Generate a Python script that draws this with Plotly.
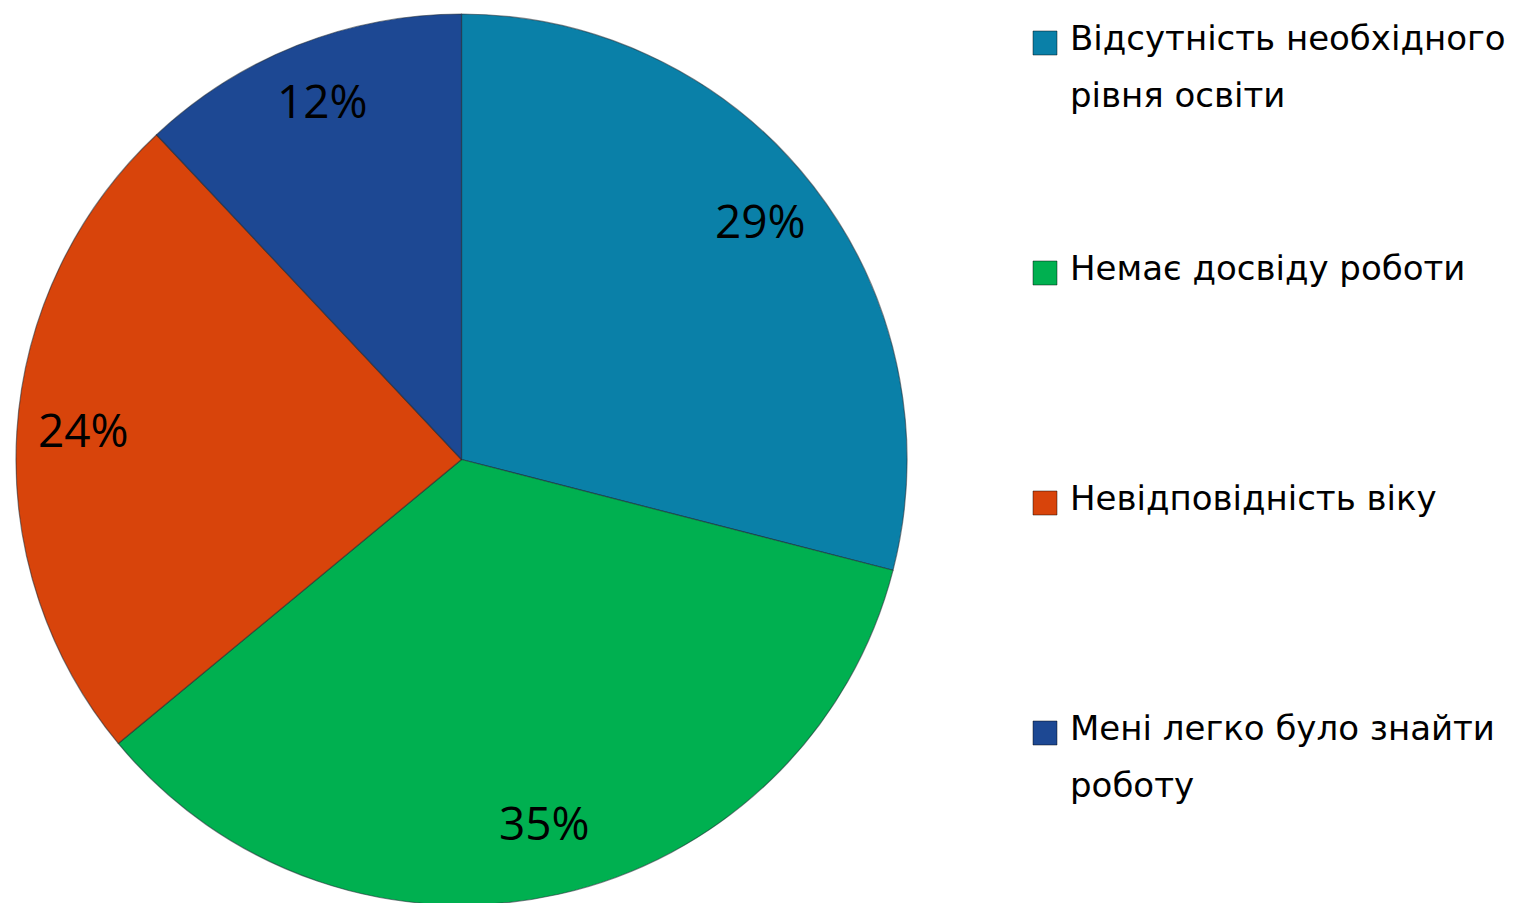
import math
import plotly.graph_objects as go

# ---- data ----
categories = [
    "Відсутність необхідного\nрівня освіти",
    "Немає досвіду роботи",
    "Невідповідність віку",
    "Мені легко було знайти\nроботу",
]
values = [29, 35, 24, 12]
value_labels = ["29%", "35%", "24%", "12%"]
colors = ["#0A80A8", "#00B050", "#D8440B", "#1D4893"]

W, H = 1526, 903
OFF = 8  # page body margin in the browser
FONT_NUM = "Open Sans, DejaVu Sans, sans-serif"
FONT_LEG = "DejaVu Sans, sans-serif"

# pie geometry (screen px -> figure px)
left_px, right_px, top_px = 16 - OFF, 907 - OFF, 14 - OFF
diam = right_px - left_px
dom_x = [left_px / W, right_px / W]
dom_y = [1 - (top_px + diam) / H, 1 - top_px / H]
r = diam / 2
cx = left_px + r
cy = top_px + r

fig = go.Figure()
fig.add_trace(go.Pie(
    labels=[c.replace("\n", " ") for c in categories],
    values=values,
    sort=False,
    direction="clockwise",
    rotation=0,
    marker=dict(colors=colors, line=dict(color="rgba(30,40,50,0.55)", width=1.2)),
    textinfo="none",
    hoverinfo="label+percent",
    domain=dict(x=dom_x, y=dom_y),
    showlegend=False,
))

annotations = []
shapes = []

# percentage labels positioned along each slice's mid-angle
total = sum(values)
cum = 0
for v, lab in zip(values, value_labels):
    mid = (cum + v / 2) / total * 2 * math.pi
    cum += v
    rr = 0.85 * r
    xp = cx + rr * math.sin(mid)
    yp = cy - rr * math.cos(mid)
    annotations.append(dict(
        x=xp / W, y=1 - yp / H, xref="paper", yref="paper",
        text=lab, showarrow=False, xanchor="center", yanchor="middle",
        yshift=7,
        font=dict(family=FONT_NUM, size=46, color="#000000"),
    ))

# custom legend
leg_sq_x0, leg_sq_size = 1033 - OFF, 24
leg_text_x = 1068 - OFF
leg_first_y = 38 - OFF
leg_step = 230
line_step = 57
for i, (cat, col) in enumerate(zip(categories, colors)):
    y0 = leg_first_y + i * leg_step
    sq_top = y0 - 7
    shapes.append(dict(
        type="rect", xref="paper", yref="paper",
        x0=leg_sq_x0 / W, x1=(leg_sq_x0 + leg_sq_size) / W,
        y0=1 - (sq_top + leg_sq_size) / H, y1=1 - sq_top / H,
        fillcolor=col, line=dict(color="rgba(0,0,0,0.45)", width=1),
    ))
    for j, line in enumerate(cat.split("\n")):
        annotations.append(dict(
            x=leg_text_x / W, y=1 - (y0 + j * line_step) / H,
            xref="paper", yref="paper", text=line, showarrow=False,
            xanchor="left", yanchor="middle",
            font=dict(family=FONT_LEG, size=34, color="#000000"),
        ))

fig.update_layout(
    width=W, height=H,
    margin=dict(l=0, r=0, t=0, b=0),
    paper_bgcolor="white", plot_bgcolor="white",
    annotations=annotations, shapes=shapes,
    showlegend=False,
)

fig.write_html("out.html")
